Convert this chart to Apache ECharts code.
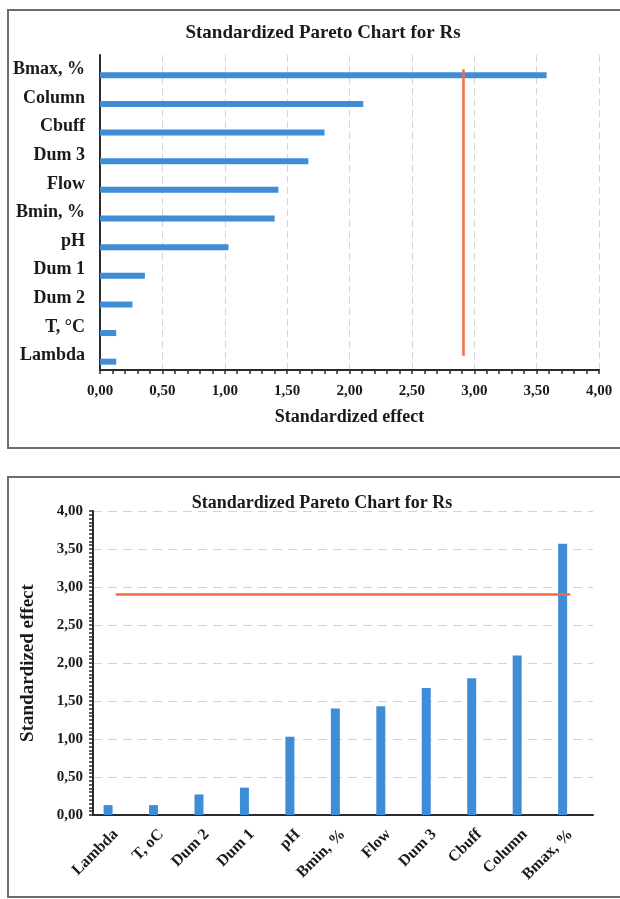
<!DOCTYPE html>
<html>
<head>
<meta charset="utf-8">
<script src="https://cdn.jsdelivr.net/npm/echarts@6/dist/echarts.min.js"></script>
<style>
html,body{margin:0;padding:0;background:#fff;}
#c{width:620px;height:899px;}
</style>
</head>
<body>
<div id="c"></div>
<script>
// Data (top chart order: largest first)
const topCategories = ['Bmax, %','Column','Cbuff','Dum 3','Flow','Bmin, %','pH','Dum 1','Dum 2','T, °C','Lambda'];
const topValues = [3.58, 2.11, 1.80, 1.67, 1.43, 1.40, 1.03, 0.36, 0.26, 0.13, 0.13];
// bottom chart order: smallest first
const bottomCategories = ['Lambda','T, oC','Dum 2','Dum 1','pH','Bmin, %','Flow','Dum 3','Cbuff','Column','Bmax, %'];
const bottomValues = [0.13, 0.13, 0.27, 0.36, 1.03, 1.40, 1.43, 1.67, 1.80, 2.10, 3.57];
const criticalValue = 2.91;
const effectTickLabels = ['0,00','0,50','1,00','1,50','2,00','2,50','3,00','3,50','4,00'];
const chartTitle = 'Standardized Pareto Chart for Rs';
const axisTitle = 'Standardized effect';

const FONT = '"Liberation Serif", "Times New Roman", serif';
const BLUE = '#3f8dd6';
const RED = '#f26a46';
const INK = '#1a1a1a';
const tickFmt = v => effectTickLabels[Math.round(v / 0.5)] ?? '';

const chart = echarts.init(document.getElementById('c'), null, {renderer: 'canvas'});
chart.setOption({
  backgroundColor: '#fff',
  animation: false,
  title: [
    {text: chartTitle, left: 318, top: 19, textAlign: 'center',
     textStyle: {fontFamily: FONT, fontWeight: 'bold', fontSize: 19, color: INK}},
    {text: chartTitle, left: 317, top: 489, textAlign: 'center',
     textStyle: {fontFamily: FONT, fontWeight: 'bold', fontSize: 18, color: INK}}
  ],
  graphic: [
    {type: 'rect', shape: {x: 8, y: 10, width: 630, height: 438}, style: {fill: 'none', stroke: '#6e6e6e', lineWidth: 2}},
    {type: 'rect', shape: {x: 8, y: 477, width: 630, height: 420}, style: {fill: 'none', stroke: '#6e6e6e', lineWidth: 2}}
  ],
  grid: [
    {left: 100, top: 55, width: 499, height: 315},
    {left: 93, top: 511, width: 500, height: 304}
  ],
  xAxis: [
    {gridIndex: 0, type: 'value', min: 0, max: 4, interval: 0.5,
     axisLine: {show: true, lineStyle: {color: '#2b2b2b', width: 2}},
     axisTick: {show: true, length: 4, lineStyle: {color: '#2b2b2b', width: 1.5}},
     minorTick: {show: true, splitNumber: 5, length: 4, lineStyle: {color: '#2b2b2b', width: 1.5}},
     splitLine: {show: true, lineStyle: {color: '#d4d4d4', type: [7, 4], width: 1}},
     axisLabel: {formatter: tickFmt, fontFamily: FONT, fontWeight: 'bold', fontSize: 15, color: INK, margin: 14},
     name: axisTitle, nameLocation: 'middle', nameGap: 38,
     nameTextStyle: {fontFamily: FONT, fontWeight: 'bold', fontSize: 18, color: INK}},
    {gridIndex: 1, type: 'category', data: bottomCategories,
     axisLine: {show: true, lineStyle: {color: '#2b2b2b', width: 2}},
     axisTick: {show: false},
     axisLabel: {interval: 0, rotate: 45, fontFamily: FONT, fontWeight: 'bold', fontSize: 16, color: INK, margin: 17}}
  ],
  yAxis: [
    {gridIndex: 0, type: 'category', data: topCategories, inverse: true,
     axisLine: {show: true, lineStyle: {color: '#2b2b2b', width: 2}},
     axisTick: {show: false},
     axisLabel: {interval: 0, fontFamily: FONT, fontWeight: 'bold', fontSize: 18, color: INK, margin: 15}},
    {gridIndex: 1, type: 'value', min: 0, max: 4, interval: 0.5,
     axisLine: {show: true, lineStyle: {color: '#2b2b2b', width: 2}},
     axisTick: {show: true, length: 4, lineStyle: {color: '#2b2b2b', width: 1.5}},
     minorTick: {show: true, splitNumber: 10, length: 4, lineStyle: {color: '#2b2b2b', width: 1.5}},
     splitLine: {show: true, lineStyle: {color: '#d4d4d4', type: [9, 6], width: 1}},
     axisLabel: {formatter: tickFmt, fontFamily: FONT, fontWeight: 'bold', fontSize: 15, color: INK, margin: 10},
     name: axisTitle, nameLocation: 'middle', nameGap: 55,
     nameTextStyle: {fontFamily: FONT, fontWeight: 'bold', fontSize: 19, color: INK}}
  ],
  series: [
    // spacer series first so the visible bars sit below the category centre
    {type: 'bar', xAxisIndex: 0, yAxisIndex: 0, data: topValues.map(() => null), barWidth: 6, barGap: '100%'},
    {type: 'bar', xAxisIndex: 0, yAxisIndex: 0, data: topValues, barWidth: 6, barGap: '100%',
     itemStyle: {color: BLUE}},
    {type: 'line', xAxisIndex: 0, yAxisIndex: 0, data: [], symbol: 'none',
     markLine: {silent: true, symbol: 'none', label: {show: false},
       lineStyle: {color: RED, width: 2.5, type: 'solid'},
       data: [[{coord: [criticalValue, topCategories[0]]}, {coord: [criticalValue, topCategories[topCategories.length - 1]]}]]}},
    {type: 'bar', xAxisIndex: 1, yAxisIndex: 1, data: bottomValues, barWidth: 9, barGap: '70%',
     itemStyle: {color: BLUE}},
    {type: 'bar', xAxisIndex: 1, yAxisIndex: 1, data: bottomValues.map(() => null), barWidth: 9, barGap: '70%'},
    {type: 'line', xAxisIndex: 1, yAxisIndex: 1, data: [], symbol: 'none',
     markLine: {silent: true, symbol: 'none', label: {show: false},
       lineStyle: {color: RED, width: 2.5, type: 'solid'},
       data: [[{coord: [bottomCategories[0], criticalValue]}, {coord: [bottomCategories[bottomCategories.length - 1], criticalValue]}]]}}
  ]
});
</script>
</body>
</html>
